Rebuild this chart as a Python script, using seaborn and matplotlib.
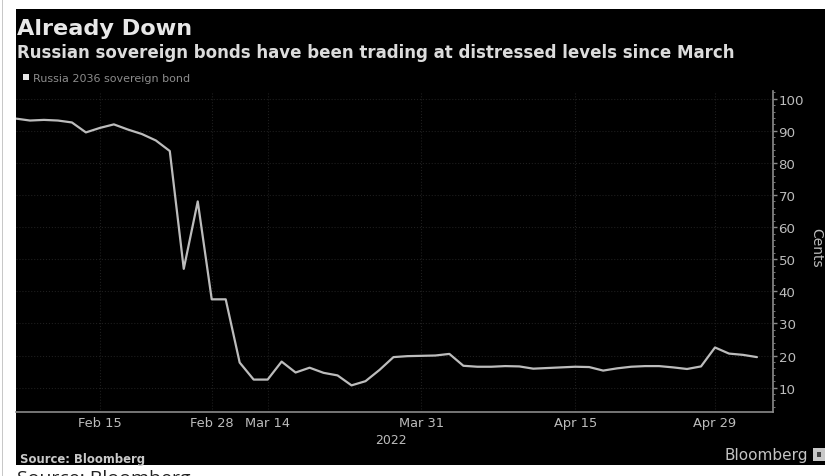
import matplotlib
matplotlib.use("Agg")
import matplotlib.pyplot as plt
import numpy as np
import pandas as pd
import seaborn as sns
from matplotlib.patches import Rectangle
from matplotlib.ticker import FixedLocator, MultipleLocator

# Russia 2036 sovereign bond, price in cents, one value per trading session
prices = [93.8, 93.2, 93.4, 93.2, 92.6, 89.5, 90.9, 92.0, 90.4, 89.0, 87.0, 83.7,
          47.0, 68.0, 37.5, 37.5, 17.8, 12.5, 12.5, 18.1, 14.7, 16.2, 14.6, 13.8,
          10.7, 12.0, 15.5, 19.5, 19.8, 19.9, 20.0, 20.5, 16.8, 16.5, 16.5, 16.7,
          16.6, 15.9, 16.1, 16.3, 16.5, 16.4, 15.3, 16.0, 16.5, 16.7, 16.7, 16.3,
          15.8, 16.6, 22.5, 20.6, 20.2, 19.5]
date_ticks = [6, 14, 18, 29, 40, 50]
date_labels = ["Feb 15", "Feb 28", "Mar 14", "Mar 31", "Apr 15", "Apr 29"]
cent_ticks = [10, 20, 30, 40, 50, 60, 70, 80, 90, 100]

W, H = 838, 477
GREY = "#bcbcbc"
AXIS = "#8a8a8a"
GRID = "#1e1e1e"

sns.set_theme(style="dark")
plt.rcParams["font.family"] = ["DejaVu Sans"]

fig = plt.figure(figsize=(W / 100, H / 100), dpi=100, facecolor="white")

def fx(px):
    return px / W

def fy(py):
    return 1 - py / H

# Black terminal panel behind the chart, with the page rule at the far left
fig.add_artist(Rectangle((fx(16), fy(466)), fx(825) - fx(16), fy(10) - fy(466),
                         transform=fig.transFigure, facecolor="black", edgecolor="none", zorder=-2))
fig.add_artist(Rectangle((fx(1.5), 0), fx(1.5), 1, transform=fig.transFigure,
                         facecolor="#c8c8c8", edgecolor="none", zorder=-2))

ax = fig.add_axes([fx(16), fy(413), fx(773) - fx(16), fy(92) - fy(413)], facecolor="none")
frame = pd.DataFrame({"session": np.arange(len(prices)), "price": prices})
sns.lineplot(data=frame, x="session", y="price", ax=ax, color=GREY, linewidth=1.6, errorbar=None)

ax.set_xlim(0, (773 - 16) / 13.98)
ax.set_ylim(2.4, 102.4)
ax.set_xlabel("")
ax.set_ylabel("")

ax.xaxis.set_major_locator(FixedLocator(date_ticks))
ax.set_xticklabels(date_labels, color=GREY, fontsize=9.4)
ax.yaxis.tick_right()
ax.yaxis.set_major_locator(FixedLocator(cent_ticks))
ax.yaxis.set_minor_locator(MultipleLocator(2))
ax.set_yticklabels([str(v) for v in cent_ticks], color=GREY, fontsize=9.6)
ax.tick_params(axis="y", which="major", length=3, width=1, color=AXIS, pad=1)
ax.tick_params(axis="y", which="minor", length=1.2, width=0.6, color=AXIS, right=True)
ax.tick_params(axis="x", which="major", length=0, pad=3)

ax.grid(True, axis="both", which="major", color=GRID, linewidth=0.8, linestyle=":")
for side in ("top", "left"):
    ax.spines[side].set_visible(False)
for side in ("right", "bottom"):
    ax.spines[side].set_visible(True)
    ax.spines[side].set_color(AXIS)
    ax.spines[side].set_linewidth(1.2)

fig.text(fx(17), fy(35), "Already Down", color="#e8e8e8", fontsize=16.1, fontweight="bold")
fig.text(fx(17), fy(58), "Russian sovereign bonds have been trading at distressed levels since March",
         color="#dcdcdc", fontsize=12, fontweight="bold")
fig.add_artist(Rectangle((fx(23), fy(81)), fx(6), fy(75) - fy(81), transform=fig.transFigure,
                         facecolor="#e6e6e6", edgecolor="none"))
fig.text(fx(33), fy(82.5), "Russia 2036 sovereign bond", color="#8c8c8c", fontsize=8)
fig.text(fx(391), fy(444), "2022", color=GREY, fontsize=9, ha="center")
fig.text(fx(20), fy(463), "Source: Bloomberg", color="#c8c8c8", fontsize=8.4, fontweight="bold")
fig.text(fx(724), fy(460), "Bloomberg", color="#c4c4c4", fontsize=11)
fig.add_artist(Rectangle((fx(813), fy(462)), fx(12), fy(449) - fy(462), transform=fig.transFigure,
                         facecolor="#c8c8c8", edgecolor="none"))
fig.add_artist(Rectangle((fx(817), fy(458)), fx(4), fy(453) - fy(458), transform=fig.transFigure,
                         facecolor="#444444", edgecolor="none"))
fig.text(fx(816), fy(248), "Cents", color=GREY, fontsize=10, rotation=270, ha="center", va="center")

# Page caption under the panel, running off the bottom edge
fig.text(fx(17), fy(484.5), "Source: Bloomberg", color="#222222", fontsize=14, family="Open Sans")

fig.savefig("out.png", dpi=100, facecolor="white")
